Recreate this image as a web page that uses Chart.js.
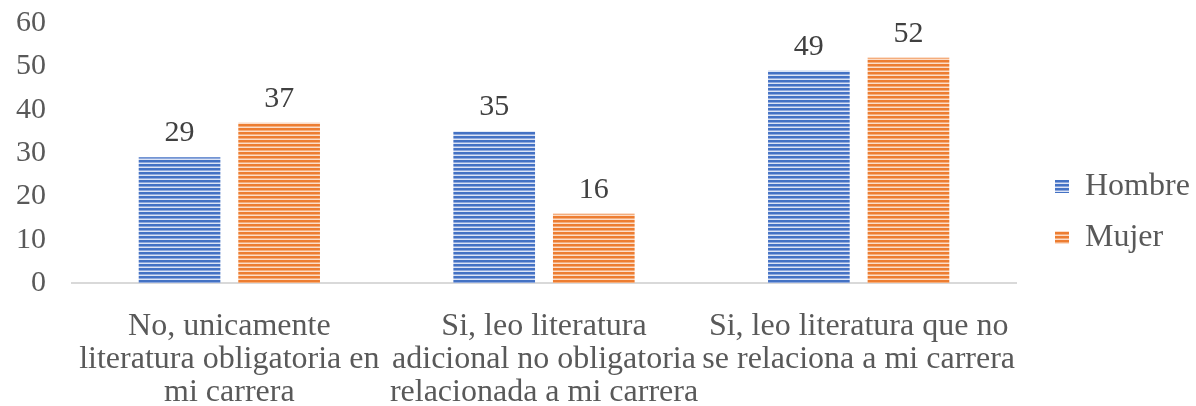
<!DOCTYPE html>
<html>
<head>
<meta charset="utf-8">
<script src="https://cdn.jsdelivr.net/npm/chart.js@4"></script>
<style>
	html, body { margin: 0; padding: 0; background: #fff; }
	#wrap { width: 1196px; height: 406px; }
</style>
</head>
<body>
<div id="wrap"><canvas id="chart"></canvas></div>
<script>
const categories = [
	["No, unicamente", "literatura obligatoria en", "mi carrera"],
	["Si, leo literatura", "adicional no obligatoria", "relacionada a mi carrera"],
	["Si, leo literatura que no", "se relaciona a mi carrera"]
];
const hombre = [29, 35, 49];
const mujer = [37, 16, 52];
const yTicks = { min: 0, max: 60, step: 10 };

function stripes(dark, mid, light) {
	let c = document.createElement('canvas');
	c.width = 4;
	c.height = 4;
	let g = c.getContext('2d');
	g.fillStyle = light;
	g.fillRect(0, 0, 4, 4);
	g.fillStyle = dark;
	g.fillRect(0, 0, 4, 2);
	g.fillStyle = mid;
	g.fillRect(0, 2, 4, 1);
	return g.createPattern(c, 'repeat');
}

const valueLabels = {
	id: 'valueLabels',
	afterDatasetsDraw(chart) {
		let ctx = chart.ctx;
		ctx.save();
		ctx.font = '30px "Liberation Serif"';
		ctx.fillStyle = '#404040';
		ctx.textAlign = 'center';
		ctx.textBaseline = 'alphabetic';
		chart.data.datasets.forEach(function (ds, i) {
			chart.getDatasetMeta(i).data.forEach(function (bar, j) {
				ctx.fillText(ds.data[j], bar.x, bar.y - 16);
			});
		});
		ctx.restore();
	}
};

// push the legend a bit away from the plot, like the original
const legendShift = {
	id: 'legendShift',
	afterLayout(chart) {
		if (chart.legend) {
			chart.legend.left += 20;
			chart.legend.right += 20;
		}
	}
};

let ctx = document.getElementById('chart').getContext('2d');
let serif = '"Liberation Serif"';

new Chart(ctx, {
	type: 'bar',
	data: {
		labels: categories,
		datasets: [{
			label: 'Hombre',
			data: hombre,
			backgroundColor: stripes('#4472C4', '#8EA8DC', '#DCE4F5'),
			borderWidth: 0
		}, {
			label: 'Mujer',
			data: mujer,
			backgroundColor: stripes('#ED7D31', '#F4AD7C', '#FCDDC8'),
			borderWidth: 0
		}]
	},
	options: {
		responsive: true,
		maintainAspectRatio: false,
		animation: false,
		datasets: {
			bar: { categoryPercentage: 0.633, barPercentage: 0.82 }
		},
		layout: { padding: { top: 0, right: -4, left: 0, bottom: 0 } },
		plugins: {
			legend: {
				position: 'right',
				title: { display: true, text: ' ', font: { size: 10 }, padding: 3 },
				labels: {
					font: { family: serif, size: 32 },
					color: '#595959',
					boxWidth: 14,
					boxHeight: 13,
					padding: 19
				}
			},
			tooltip: { enabled: false }
		},
		scales: {
			x: {
				grid: { display: false, drawTicks: false },
				border: { color: '#D9D9D9', width: 2 },
				ticks: {
					font: { family: serif, size: 32, lineHeight: 1.03 },
					color: '#595959', padding: 27, maxRotation: 0, autoSkip: false
				},
				afterFit(scale) {
					// keep plot area at the reference position
					scale.height = 123;
					scale.paddingLeft = 0;
					scale.paddingRight = 180;
				}
			},
			y: {
				min: yTicks.min,
				max: yTicks.max,
				grid: { display: false, drawTicks: false },
				border: { display: false },
				ticks: {
					stepSize: yTicks.step, autoSkip: false,
					font: { family: serif, size: 30 }, color: '#595959', padding: 26
				},
				afterFit(scale) {
					scale.width = 72;
					scale.paddingTop = 23;
					scale.paddingBottom = 0;
				}
			}
		}
	},
	plugins: [valueLabels, legendShift]
});
</script>
</body>
</html>
